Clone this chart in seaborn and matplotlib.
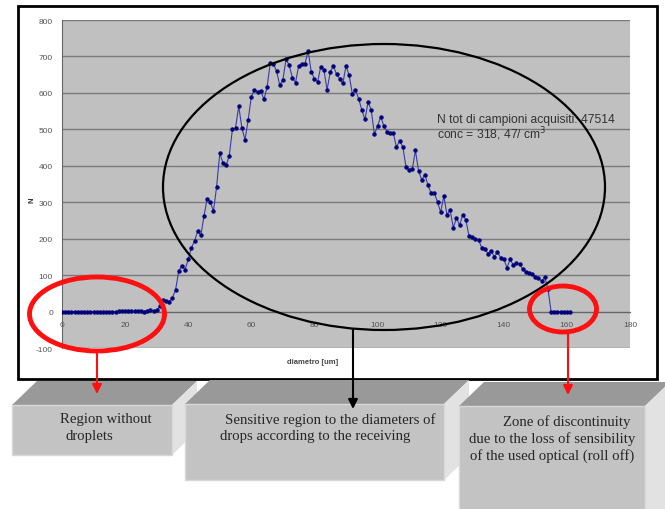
import numpy as np
import pandas as pd
import matplotlib
matplotlib.use("Agg")
import matplotlib.pyplot as plt
import seaborn as sns
from matplotlib.patches import Ellipse, Polygon, Rectangle

# ---------------- data ----------------
diametro = list(range(0, 162))
counts = ([0] * 18 +
          [1, 1, 2, 2, 2, 1, 1, 1, 0, 2] +
          [5, 2, 3,
           15, 33, 30, 27, 38, 60, 111, 126, 115, 143,
           175, 193, 221, 209, 262, 310, 300, 276, 343, 434,
           408, 401, 427, 500, 504, 564, 504, 471, 526, 590,
           608, 603, 605, 582, 616, 683, 679, 660, 621, 636,
           692, 676, 642, 628, 674, 679, 680, 715, 657, 639,
           630, 672, 663, 608, 657, 674, 651, 639, 626, 674,
           648, 598, 608, 584, 553, 527, 575, 553, 486, 509,
           535, 509, 494, 489, 489, 451, 469, 452, 398, 388,
           390, 442, 386, 361, 376, 346, 324, 326, 300, 273,
           317, 266, 278, 230, 257, 237, 266, 251, 206, 204,
           200, 197, 175, 173, 159, 167, 150, 163, 148, 145,
           120, 143, 128, 132, 130, 117, 109, 107, 102, 96,
           91, 84, 94, 62] +
          [0] * 7)

x_ticks = [0, 20, 40, 60, 80, 100, 120, 140, 160, 180]
y_ticks = [-100, 0, 100, 200, 300, 400, 500, 600, 700, 800]

info_line1 = "N tot di campioni acquisiti: 47514"
info_line2 = "conc = 318, 47/ cm$^{3}$"
box_texts = [["Region without", "droplets"],
             ["Sensitive region to the diameters of", "drops according to the receiving"],
             ["Zone of discontinuity", "due to the loss of sensibility", "of the used optical (roll off)"]]

df = pd.DataFrame({"diametro": diametro, "N": counts})

# ---------------- figure ----------------
W, H = 665, 510
sns.set_style("white")
plt.rcParams['font.family'] = ['Liberation Sans', 'DejaVu Sans']
plt.rcParams['axes.unicode_minus'] = False
fig = plt.figure(figsize=(W / 100, H / 100), dpi=100)

def fx(px):
    return px / W

def fy(py):
    return 1 - py / H

left, right, top, bottom = 62, 630, 21, 349
ax = fig.add_axes([fx(left), fy(bottom), fx(right - left), (bottom - top) / H])
ax.set_facecolor("#c0c0c0")

sns.lineplot(data=df, x="diametro", y="N", ax=ax, color="#3a3aa8", linewidth=0.8,
             marker="o", markersize=2.4, markerfacecolor="#00007a",
             markeredgecolor="#00007a", zorder=3)

ax.set_xlim(0, 180)
ax.set_ylim(-100, 800)
ax.set_xticks(x_ticks)
ax.set_yticks(y_ticks)
ax.yaxis.grid(True, color="#7a7a7a", linewidth=1.0)
ax.xaxis.grid(False)
ax.set_axisbelow(True)
for s in ["top", "right"]:
    ax.spines[s].set_visible(False)
ax.spines["bottom"].set_position(("data", 0))
ax.spines["bottom"].set_color("#666666")
ax.spines["left"].set_color("#666666")
ax.spines["bottom"].set_linewidth(0.8)
ax.spines["left"].set_linewidth(0.8)
ax.tick_params(axis="both", which="both", labelsize=6, labelcolor="#555555",
               color="#666666", length=3, width=0.7, direction="out")
ax.set_xlabel("")
ax.set_ylabel("")

fig.text(fx(32), fy(200), "N", fontsize=5.5, fontweight="bold", color="#333333",
         rotation=90, ha="center", va="center")
fig.text(fx(313), fy(362), "diametro [um]", fontsize=5.5, fontweight="bold",
         color="#444444", ha="center", va="center")

# ---------------- overlay in pixel coordinates ----------------
ov = fig.add_axes([0, 0, 1, 1], zorder=5)
ov.set_xlim(0, W)
ov.set_ylim(H, 0)
ov.axis("off")
ov.patch.set_alpha(0)

# outer frame
ov.add_patch(Rectangle((18, 7), 639, 373, fill=False, edgecolor="black", linewidth=2))

# info text
ov.text(437, 120, info_line1, fontsize=8.7, color="#333333", va="center", ha="left")
ov.text(437, 134, info_line2, fontsize=8.7, color="#333333", va="center", ha="left")

# ellipses
ov.add_patch(Ellipse((384, 188), 442, 286, fill=False, edgecolor="black", linewidth=1.6))
ov.add_patch(Ellipse((97, 315), 135, 74, fill=False, edgecolor="#ff1010", linewidth=3.5))
ov.add_patch(Ellipse((563, 310), 67, 46, fill=False, edgecolor="#ff1010", linewidth=3.5))

# boxes (3D bevel)
def box3d(x0, x1, ytop, ybot, depth_x, depth_y):
    top = Polygon([(x0, ytop), (x1, ytop), (x1 + depth_x, ytop - depth_y), (x0 + depth_x, ytop - depth_y)],
                  closed=True, facecolor="#999999", edgecolor="none", zorder=2)
    side = Polygon([(x1, ytop), (x1 + depth_x, ytop - depth_y), (x1 + depth_x, ybot - depth_y), (x1, ybot)],
                   closed=True, facecolor="#e2e2e2", edgecolor="none", zorder=2)
    front = Rectangle((x0, ytop), x1 - x0, ybot - ytop, facecolor="#c3c3c3",
                      edgecolor="#d8d8d8", linewidth=1, zorder=2)
    for p in (top, side, front):
        ov.add_patch(p)

box3d(12, 172, 406, 456, 25, 24)
box3d(185, 444, 405, 481, 25, 24)
box3d(459, 645, 407, 530, 25, 24)

serif = ['Liberation Serif', 'DejaVu Serif']
fs = 10.6
ov.text(60, 420, box_texts[0][0], fontsize=fs, family=serif, va="center", ha="left", zorder=3)
ov.text(66, 437, box_texts[0][1], fontsize=fs, family=serif, va="center", ha="left", zorder=3)
ov.text(225, 420, box_texts[1][0], fontsize=fs, family=serif, va="center", ha="left", zorder=3)
ov.text(220, 437, box_texts[1][1], fontsize=fs, family=serif, va="center", ha="left", zorder=3)
ov.text(503, 422, box_texts[2][0], fontsize=fs, family=serif, va="center", ha="left", zorder=3)
ov.text(469, 439, box_texts[2][1], fontsize=fs, family=serif, va="center", ha="left", zorder=3)
ov.text(470, 456, box_texts[2][2], fontsize=fs, family=serif, va="center", ha="left", zorder=3)

# arrows
def arrow(x, y0, y1, color):
    ov.annotate("", xy=(x, y1), xytext=(x, y0),
                arrowprops=dict(arrowstyle="-|>", color=color, lw=1.5,
                                mutation_scale=14, shrinkA=0, shrinkB=0), zorder=4)

arrow(97, 352, 395, "#ff1010")
arrow(568, 333, 396, "#ff1010")
arrow(353, 331, 410, "black")

fig.savefig("out.png", dpi=100)
